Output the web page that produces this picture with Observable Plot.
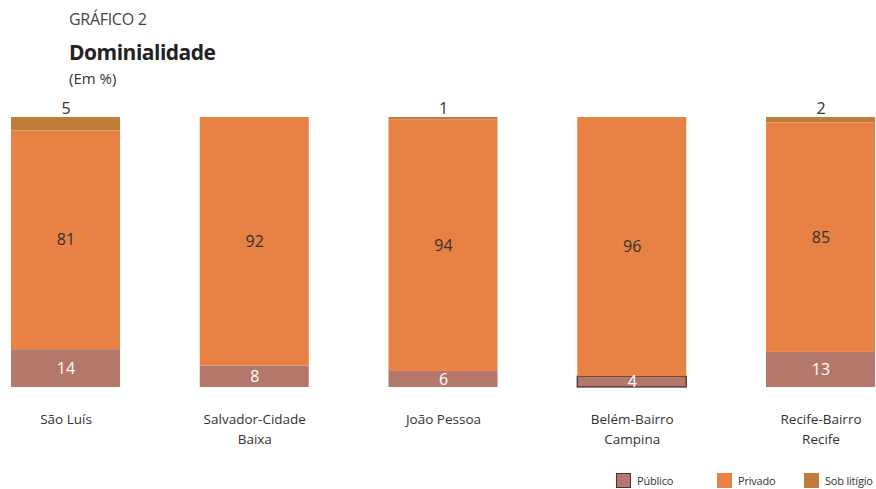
<!DOCTYPE html>
<html>
<head>
<meta charset="utf-8">
<script src="https://cdn.jsdelivr.net/npm/d3@7"></script>
<script src="https://cdn.jsdelivr.net/npm/@observablehq/plot@0.6"></script>
<style>
  body { margin: 0; background: #fff; font-family: "Open Sans", sans-serif; color: #333; }
  #wrap { width: 876px; height: 489px; position: relative; overflow: hidden; }
  #head { height: 96px; position: relative; }
  #kicker { position: absolute; left: 69px; top: 8px; font-size: 16px; color: #444; letter-spacing: -0.3px; }
  #title { position: absolute; left: 69px; top: 38px; font-size: 21px; font-weight: 700; color: #222; letter-spacing: -0.5px; }
  #sub { position: absolute; left: 69px; top: 68px; font-size: 15px; color: #333; }
  #legend { position: absolute; top: 473px; left: 0; width: 876px; height: 18px; font-size: 11px; color: #333; }
  .item { position: absolute; display: flex; align-items: center; white-space: nowrap; letter-spacing: -0.2px; }
  .sw { width: 15px; height: 15px; margin-right: 6px; box-sizing: border-box; flex: none; }
  svg text { font-family: "Open Sans", sans-serif; }
</style>
</head>
<body>
<div id="wrap">
  <div id="head">
    <div id="kicker">GRÁFICO 2</div>
    <div id="title">Dominialidade</div>
    <div id="sub">(Em %)</div>
  </div>
  <div id="chart"></div>
  <div id="legend"></div>
</div>
<script>
const categories = ["São Luís", "Salvador-Cidade Baixa", "João Pessoa", "Belém-Bairro Campina", "Recife-Bairro Recife"];
const tickLabels = ["São Luís", "Salvador-Cidade\nBaixa", "João Pessoa", "Belém-Bairro\nCampina", "Recife-Bairro\nRecife"];
const series = ["Público", "Privado", "Sob litígio"];
const publico = [14, 8, 6, 4, 13];
const privado = [81, 92, 94, 96, 85];
const litigio = [5, 0, 1, 0, 2];
const colors = ["#b4786a", "#e78244", "#c07d3a"];
const outlined = ["Belém-Bairro Campina"];

const values = [publico, privado, litigio];
const rows = [];
categories.forEach((c, i) => series.forEach((s, j) => rows.push({cat: c, s, v: values[j][i]})));
const labelOf = new Map(categories.map((c, i) => [c, tickLabels[i]]));

const stackOpts = {x: "cat", y: "v", z: "s", order: series, offset: "normalize"};

const chart = Plot.plot({
  width: 876,
  height: 372,
  marginLeft: 11,
  marginRight: 1,
  marginTop: 21,
  marginBottom: 81,
  x: {domain: categories, paddingInner: 0.4225, paddingOuter: 0, round: false, label: null},
  y: {axis: null, domain: [0, 1]},
  color: {domain: series, range: colors},
  marks: [
    Plot.barY(rows, Plot.stackY({
      ...stackOpts,
      fill: "s",
      stroke: d => (d.s === "Público" && outlined.includes(d.cat)) ? "#3b2b28" : "none",
      strokeWidth: 1.2
    })),
    Plot.text(rows, Plot.stackY({
      ...stackOpts,
      text: d => d.s === "Privado" ? d.v : null,
      fill: "#333",
      fontSize: 16
    })),
    Plot.text(rows, Plot.stackY({
      ...stackOpts,
      text: d => d.s === "Público" ? d.v : null,
      fill: "white",
      fontSize: 16
    })),
    Plot.text(rows, Plot.stackY2({
      ...stackOpts,
      text: d => (d.s === "Sob litígio" && d.v > 0) ? d.v : null,
      fill: "#333",
      fontSize: 16,
      dy: -9
    })),
    Plot.axisX({
      tickSize: 0,
      tickPadding: 23,
      fontSize: 13.5,
      lineHeight: 1.45,
      fill: "#333",
      tickFormat: d => labelOf.get(d),
      label: null
    })
  ]
});
document.getElementById("chart").appendChild(chart);

const legend = document.getElementById("legend");
const legendX = [616, 717, 804];
series.forEach((s, i) => {
  const it = document.createElement("div");
  it.className = "item";
  it.style.left = legendX[i] + "px";
  const sw = document.createElement("div");
  sw.className = "sw";
  sw.style.background = colors[i];
  if (i === 0) sw.style.border = "1.5px solid #4a3530";
  const t = document.createElement("span");
  t.textContent = s;
  it.appendChild(sw);
  it.appendChild(t);
  legend.appendChild(it);
});
</script>
</body>
</html>
